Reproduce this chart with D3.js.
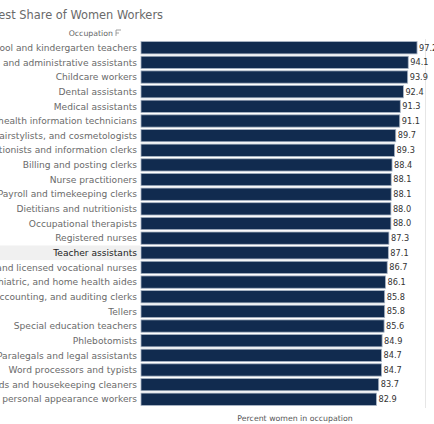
<!DOCTYPE html>
<html>
<head>
<meta charset="utf-8">
<script src="https://cdn.jsdelivr.net/npm/d3@7"></script>
<style>
	body { margin: 0; background: #fff; }
	svg { display: block; }
	.label { font: 9.1px 'DejaVu Sans'; fill: #6a6a6a; }
	.value { font: 8.2px 'DejaVu Sans'; fill: #333; }
</style>
</head>
<body>
<svg id="chart" width="434" height="424"></svg>
<script>
// Occupations (top to bottom)
var occupations = [
	"Preschool and kindergarten teachers",
	"Secretaries and administrative assistants",
	"Childcare workers",
	"Dental assistants",
	"Medical assistants",
	"Medical records and health information technicians",
	"Hairdressers, hairstylists, and cosmetologists",
	"Receptionists and information clerks",
	"Billing and posting clerks",
	"Nurse practitioners",
	"Payroll and timekeeping clerks",
	"Dietitians and nutritionists",
	"Occupational therapists",
	"Registered nurses",
	"Teacher assistants",
	"Licensed practical and licensed vocational nurses",
	"Nursing, psychiatric, and home health aides",
	"Bookkeeping, accounting, and auditing clerks",
	"Tellers",
	"Special education teachers",
	"Phlebotomists",
	"Paralegals and legal assistants",
	"Word processors and typists",
	"Maids and housekeeping cleaners",
	"Miscellaneous personal appearance workers"
];

// Percent women in occupation
var percentWomen = [97.2, 94.1, 93.9, 92.4, 91.3, 91.1, 89.7, 89.3, 88.4, 88.1, 88.1, 88.0, 88.0,
	87.3, 87.1, 86.7, 86.1, 85.8, 85.8, 85.6, 84.9, 84.7, 84.7, 83.7, 82.9];

// Row that is highlighted in the header column
var highlighted = "Teacher assistants";

var title = "Occupations with the Highest Share of Women Workers";
var xTitle = "Percent women in occupation";

var data = occupations.map(function(d, i) { return { name: d, value: percentWomen[i] }; });

var svg = d3.select("#chart");

var margin = { top: 41, left: 141, right: 425, bottom: 406 };

var x = d3.scaleLinear()
	.domain([0, 100])
	.range([margin.left, margin.right]);

var y = d3.scaleBand()
	.domain(occupations)
	.range([margin.top, margin.bottom])
	.paddingInner(0.16)
	.paddingOuter(0.04);

// Title (cut off on the left like the source view)
svg.append("text")
	.attr("x", 163)
	.attr("y", 19)
	.attr("text-anchor", "end")
	.style("font", "11.4px 'DejaVu Sans'")
	.attr("fill", "#6a6a6a")
	.text(title);

// Header
svg.append("text")
	.attr("x", 113)
	.attr("y", 36)
	.attr("text-anchor", "end")
	.style("font", "7.8px 'DejaVu Sans'")
	.attr("fill", "#666")
	.text("Occupation");

svg.append("path")
	.attr("d", "M116,30 h5 M116,30 v6 M116,33 h3")
	.attr("stroke", "#888")
	.attr("stroke-width", 0.8)
	.attr("fill", "none");

// Highlighted row background
svg.append("rect")
	.attr("x", 0)
	.attr("y", y(highlighted) - y.step() * y.paddingInner() / 2)
	.attr("width", margin.left - 1)
	.attr("height", y.step())
	.attr("fill", "#f0f0f0");

// Right border of pane
svg.append("line")
	.attr("x1", margin.right + 0.5)
	.attr("x2", margin.right + 0.5)
	.attr("y1", margin.top - 2)
	.attr("y2", margin.bottom + 2)
	.attr("stroke", "#e6e6e6");

// Bars
svg.selectAll(".bar")
	.data(data)
	.enter().append("rect")
		.attr("class", "bar")
		.attr("x", x(0))
		.attr("y", function(d) { return y(d.name); })
		.attr("width", function(d) { return x(d.value) - x(0); })
		.attr("height", y.bandwidth())
		.attr("fill", "#112b4f")
		.attr("stroke", "#a9b5c5")
		.attr("stroke-width", 0.8);

// Row labels
svg.selectAll(".label")
	.data(data)
	.enter().append("text")
		.attr("class", "label")
		.attr("x", 137)
		.attr("y", function(d) { return y(d.name) + y.bandwidth() / 2; })
		.attr("dy", ".35em")
		.attr("text-anchor", "end")
		.style("fill", function(d) { return d.name == highlighted ? "#222" : null; })
		.text(function(d) { return d.name; });

// Value labels
svg.selectAll(".value")
	.data(data)
	.enter().append("text")
		.attr("class", "value")
		.attr("x", function(d) { return x(d.value) + 2; })
		.attr("y", function(d) { return y(d.name) + y.bandwidth() / 2; })
		.attr("dy", ".35em")
		.text(function(d) { return d.value.toFixed(1); });

// X axis title
svg.append("text")
	.attr("x", 295)
	.attr("y", 421)
	.attr("text-anchor", "middle")
	.style("font", "7.8px 'DejaVu Sans'")
	.attr("fill", "#555")
	.text(xTitle);
</script>
</body>
</html>
